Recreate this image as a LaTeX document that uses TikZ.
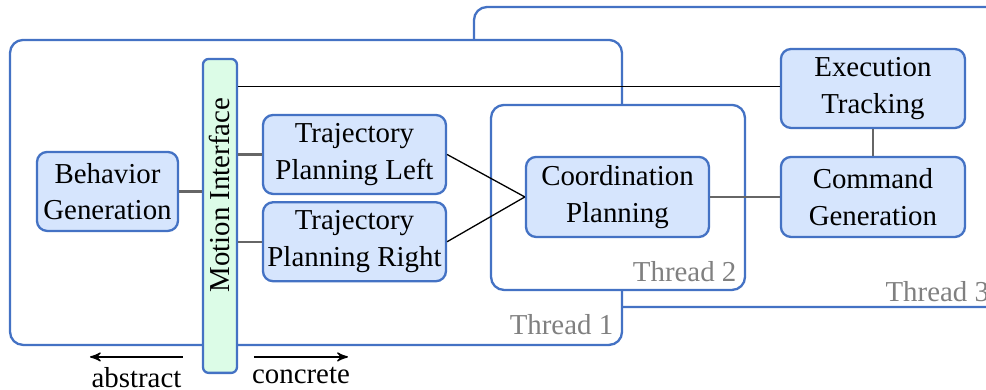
\documentclass[tikz,border=0pt]{standalone}
\usepackage{fontspec}
\setmainfont{Liberation Serif}
\usepackage{xcolor}
\usetikzlibrary{arrows, positioning, calc}

\definecolor{threadblue}{HTML}{4472C4}
\definecolor{blockfill}{HTML}{D6E5FD}
\definecolor{ifacefill}{HTML}{DCFCE7}
\definecolor{labelgray}{HTML}{808080}

\begin{document}
\begin{tikzpicture}[
    block/.style={rectangle, rounded corners=3.5pt, draw=threadblue, line width=0.8pt, fill=blockfill, minimum width=2.227cm, minimum height=0.961cm, inner sep=1pt, align=center, font=\fontsize{10}{12.6}\selectfont},
    iface/.style={rectangle, rounded corners=2pt, draw=threadblue, line width=0.8pt, fill=ifacefill, minimum width=3.821cm, minimum height=0.414cm, inner sep=1pt, rotate=90},
    thread/.style={draw=threadblue, line width=0.8pt, rounded corners=4.5pt, fill=white},
    threadlabel/.style={text=labelgray, inner sep=0pt, anchor=base east},
    link/.style={draw=black, line width=0.45pt},
    bus/.style={draw=black!60, line width=0.8pt},
    ]
\useasboundingbox (0,0) rectangle (12,4.746);
\clip (0,0) rectangle (12,4.746);

% thread areas, back to front
\draw[thread] (5.769,1.010) rectangle (12.5,4.661);
\node[threadlabel, anchor=base west] (t3) at (10.771,1.071) {Thread 3};
\draw[thread] (0.122,0.548) rectangle (7.570,4.260);
\node[threadlabel] (t1) at (7.47,0.669) {Thread 1};
\draw[thread] (5.976,1.217) rectangle (9.067,3.469);
\node[threadlabel] (t2) at (8.969,1.314) {Thread 2};

% components (mi is turned, so its north side faces left)
\node[iface] (mi) at (2.677,2.118) {\hspace*{0.51cm}Motion Interface};
\node[block, minimum width=1.716cm] (bg) at (1.308,2.416) {Behavior\\Generation};
\node[block] (tl) at (4.314,2.866) {Trajectory\\Planning Left};
\node[block, below=0.073cm of tl] (tr) {Trajectory\\Planning Right};
\node[block, minimum height=0.974cm] (cp) at (7.515,2.349) {Coordination\\Planning};
\node[block, minimum width=2.240cm] (et) at (10.624,3.669) {Execution\\Tracking};
\node[block, minimum width=2.240cm, minimum height=0.974cm] (cg) at (10.624,2.349) {Command\\Generation};

% connections
\draw[bus] (bg.east) -- (bg.east -| mi.north);
\draw[bus] (tl.west -| mi.south) -- (tl.west);
\draw[bus] (tr.west -| mi.south) -- (tr.west);
\draw[link] ($(et.west -| mi.south)+(0,0.02)$) -- ($(et.west)+(0,0.02)$);
\draw[link] (tl.east) -- (cp.west);
\draw[link] (tr.east) -- (cp.west);
\draw[bus] (cp.east) -- (cg.west);
\draw[bus] (et.south) -- (cg.north);

% direction of refinement
\coordinate (absR) at (2.227,0.402);
\coordinate (absL) at (1.095,0.402);
\coordinate (conL) at (3.091,0.402);
\coordinate (conR) at (4.235,0.402);
\draw[link, -stealth'] (absR) -- (absL) node[midway, below=0.12cm, inner sep=0pt] (abs) {abstract};
\draw[link, -stealth'] (conL) -- (conR) node[midway, below=0.12cm, inner sep=0pt] (con) {concrete};

\end{tikzpicture}
\end{document}
